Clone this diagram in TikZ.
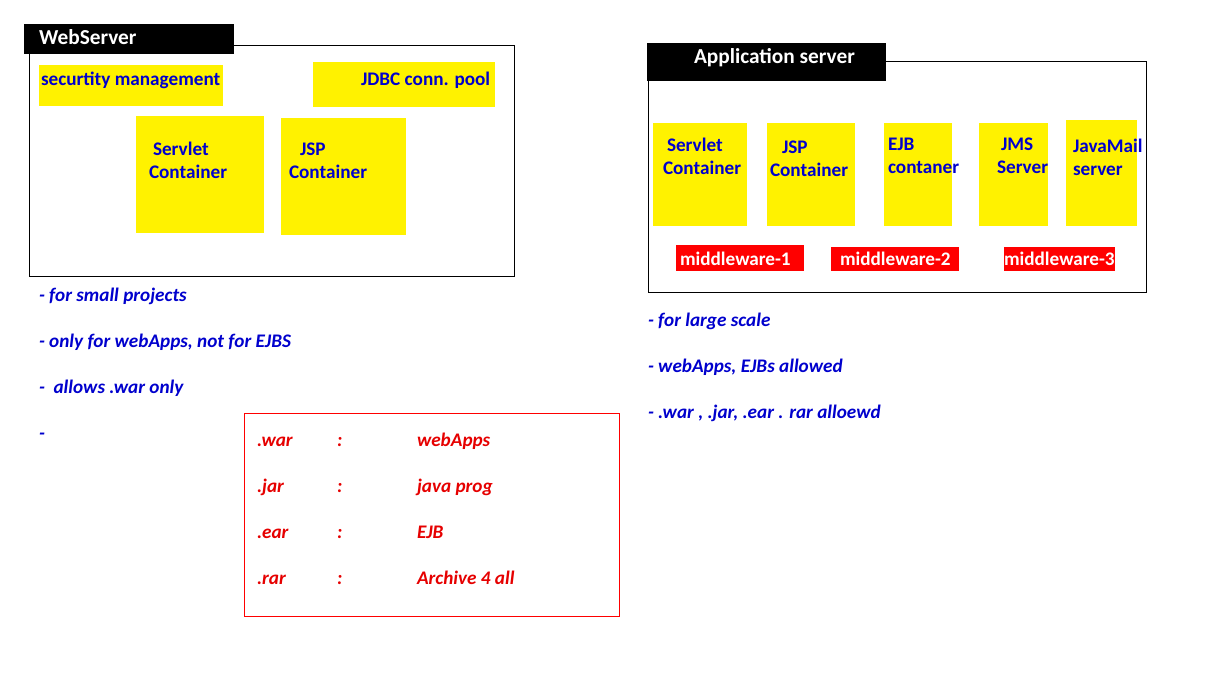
\documentclass[tikz,border=0pt]{standalone}
\usepackage{fontspec}
\setmainfont{Carlito}
\usetikzlibrary{fit}
\definecolor{tblue}{RGB}{0,0,205}
\definecolor{tred}{RGB}{230,0,0}
\tikzset{
  every node/.style={inner sep=0pt, outer sep=0pt},
  frame/.style={draw=black, line width=0.75pt, inner sep=0pt},
  tab/.style={fill=black, inner sep=0pt},
  ybox/.style={fill=yellow, inner sep=0pt},
  rbox/.style={fill=red, inner sep=0pt},
  tabtxt/.style={anchor=base west, text=white, font=\fontsize{16}{18}\selectfont\bfseries},
  btxt/.style={anchor=base west, text=tblue, font=\fontsize{14.4}{16}\selectfont\bfseries},
  wtxt/.style={anchor=base west, text=white, font=\fontsize{14.4}{16}\selectfont\bfseries},
  note/.style={anchor=base west, text=tblue, font=\fontsize{14.4}{16}\selectfont\bfseries\itshape},
  rnote/.style={anchor=base west, text=tred, font=\fontsize{14.4}{16}\selectfont\bfseries\itshape},
}
\begin{document}
\begin{tikzpicture}[x=0.75pt,y=-0.75pt]
\useasboundingbox[fill=white] (0,0) rectangle (1213,672);
% ---------- WebServer ----------
\node[frame, fit={(29,45)(514,276)}] (ws) {};
\node[tab, fit={(24,24)(234,54)}] (wstab) {};
\node[tabtxt] (wstitle) at (39,44) {WebServer};
\node[ybox, fit={(39,65)(223,106)}] (sec) {};
\node[btxt] (sect) at (41,85) {securtity management};
\node[ybox, fit={(313,62)(495,107)}] (jdbc) {};
\node[btxt] (jdbct) at (361,85) {JDBC conn. pool};
\node[ybox, fit={(136,116)(264,233)}] (wsserv) {};
\node[btxt] (wsserv1) at (153,155) {Servlet};
\node[btxt] (wsserv2) at (149,178) {Container};
\node[ybox, fit={(281,118)(406,235)}] (wsjsp) {};
\node[btxt] (wsjsp1) at (300,155) {JSP};
\node[btxt] (wsjsp2) at (289,178) {Container};
% notes left
\node[note] (n1) at (39,301) {- for small projects};
\node[note] (n2) at (39,347) {- only for webApps, not for EJBS};
\node[note] (n3) at (39,393) {-\ \ allows .war only};
\node[note] (n4) at (39,439) {-};
% ---------- table ----------
\node[draw=red, line width=0.75pt, inner sep=0pt, fit={(244,413)(619,616)}] (tbl) {};
\node[rnote] (r1a) at (257,446) {.war};
\node[rnote] (r1b) at (337,446) {:};
\node[rnote] (r1c) at (417,446) {webApps};
\node[rnote] (r2a) at (257,492) {.jar};
\node[rnote] (r2b) at (337,492) {:};
\node[rnote] (r2c) at (417,492) {java prog};
\node[rnote] (r3a) at (257,538) {.ear};
\node[rnote] (r3b) at (337,538) {:};
\node[rnote] (r3c) at (417,538) {EJB};
\node[rnote] (r4a) at (257,584) {.rar};
\node[rnote] (r4b) at (337,584) {:};
\node[rnote] (r4c) at (417,584) {Archive 4 all};
% ---------- Application server ----------
\node[frame, fit={(648,61)(1146,292)}] (as) {};
\node[tab, fit={(647,43)(886,81)}] (astab) {};
\node[tabtxt] (astitle) at (694,63) {Application server};
\node[ybox, fit={(653,123)(747,226)}] (asserv) {};
\node[btxt] (asserv1) at (667,151) {Servlet};
\node[btxt] (asserv2) at (663,174) {Container};
\node[ybox, fit={(767,123)(855,226)}] (asjsp) {};
\node[btxt] (asjsp1) at (782,153) {JSP};
\node[btxt] (asjsp2) at (770,176) {Container};
\node[ybox, fit={(884,123)(952,226)}] (ejb) {};
\node[btxt] (ejb1) at (888,150) {EJB};
\node[btxt] (ejb2) at (888,173) {contaner};
\node[ybox, fit={(979,123)(1048,226)}] (jms) {};
\node[btxt] (jms1) at (1001,150) {JMS};
\node[btxt] (jms2) at (997,173) {Server};
\node[ybox, fit={(1066,120)(1137,226)}] (mail) {};
\node[btxt] (mail1) at (1073,152) {JavaMail};
\node[btxt] (mail2) at (1073,175) {server};
\node[rbox, fit={(676,245)(804,271)}] (mw1) {};
\node[wtxt] (mw1t) at (680,265) {middleware-1};
\node[rbox, fit={(831,247)(959,271)}] (mw2) {};
\node[wtxt] (mw2t) at (840,265) {middleware-2};
\node[rbox, fit={(1004,247)(1115,271)}] (mw3) {};
\node[wtxt] (mw3t) at (1004,265) {middleware-3};
% notes right
\node[note] (m1) at (648,326) {- for large scale};
\node[note] (m2) at (648,372) {- webApps, EJBs allowed};
\node[note] (m3) at (648,418) {- .war , .jar, .ear . rar alloewd};
\end{tikzpicture}
\end{document}
